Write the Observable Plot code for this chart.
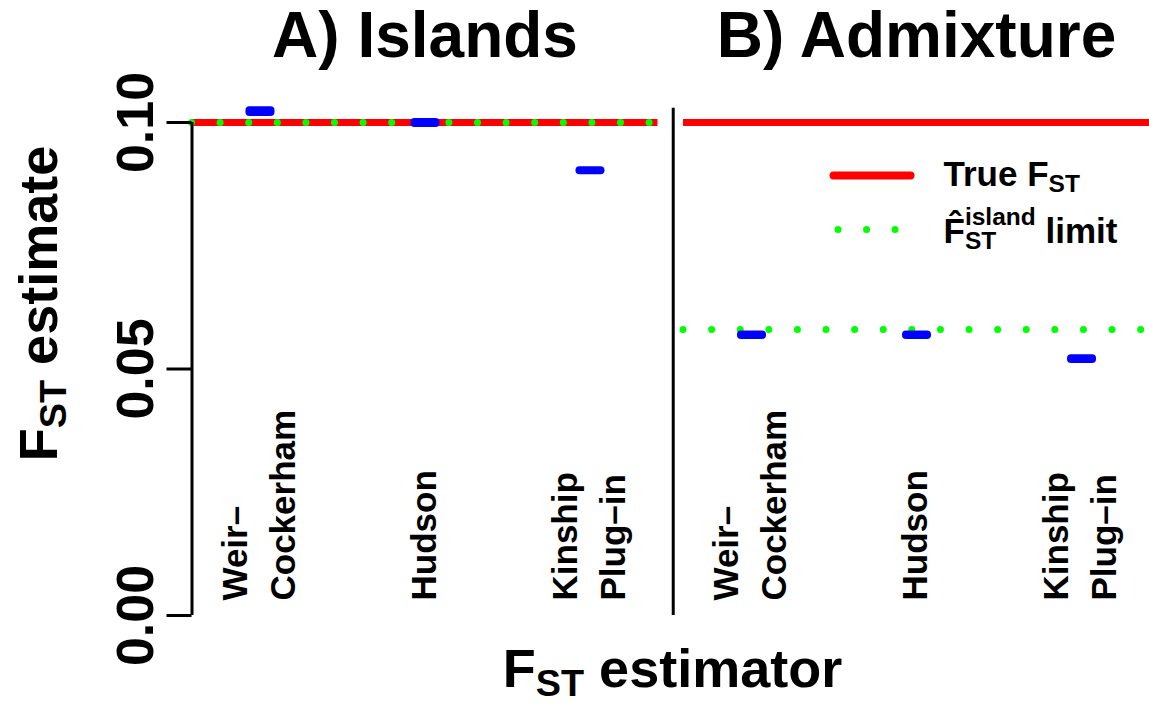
<!DOCTYPE html>
<html><head><meta charset="utf-8">
<script src="https://cdn.jsdelivr.net/npm/d3@7"></script>
<script src="https://cdn.jsdelivr.net/npm/@observablehq/plot@0.6"></script>
<style>body{margin:0;background:#fff} svg{display:block}</style>
</head><body><div id="chart"></div>
<script>
// ---- data ----
const panels = ["A", "B"];
const panelTitles = ["A) Islands", "B) Admixture"];
const estimators = ["Weir–\nCockerham", "Hudson", "Kinship\nPlug–in"];
const estimatorPos = [1, 2, 3];
const boxLowA  = [0.1012, 0.0990, 0.0894];
const boxHighA = [0.1032, 0.1008, 0.0910];
const boxLowB  = [0.0560, 0.0560, 0.0511];
const boxHighB = [0.0577, 0.0577, 0.0529];
const trueFst = [0.10, 0.10];
const islandLimit = [0.10, 0.0580];
const yTicks = [0, 0.05, 0.10];
const separatorTop = 0.1029;
const legendLabels = ["True F_{ST}", "F\u0302^{island}_{ST} limit"];
const xLabel = "F_{ST} estimator";
const yLabel = "F_{ST} estimate";

// ---- tables ----
const XDOMAIN = [0.585, 3.409];
const BOXHALF = 0.088;
const boxes = panels.flatMap((p, i) => estimators.map((e, j) => ({
  panel: p, pos: estimatorPos[j],
  lo: i ? boxLowB[j] : boxLowA[j], hi: i ? boxHighB[j] : boxHighA[j]
})));
const labels = panels.flatMap(p => estimators.map((e, j) => ({panel: p, pos: estimatorPos[j], label: e})));
const trueRows = panels.map((p, i) => ({panel: p, v: trueFst[i]}));
const limitRows = panels.map((p, i) => ({panel: p, v: islandLimit[i]}));
const RED = "#FF0000", GREEN = "#00FF00", BLUE = "#0000FF";

const lineSym = {draw(ctx) { ctx.moveTo(-38.5, 0); ctx.lineTo(38.5, 0); }};
const dotsSym = {draw(ctx) { ctx.moveTo(-28.5, 0); ctx.lineTo(29, 0); }};

const svg = Plot.plot({
  width: 1149, height: 706,
  marginLeft: 191.5, marginRight: 0, marginTop: 100, marginBottom: 91,
  style: {fontFamily: "'Liberation Sans', Arial, Helvetica, sans-serif", background: "white", color: "black"},
  fx: {domain: panels, paddingInner: 0.052, paddingOuter: 0, round: false},
  x: {domain: XDOMAIN, axis: null},
  y: {domain: [0, 0.1], range: [615, 122]},
  marks: [
    Plot.ruleY(trueRows, {fx: "panel", y: "v", stroke: RED, strokeWidth: 7}),
    Plot.ruleY(limitRows, {fx: "panel", y: "v", stroke: GREEN, strokeWidth: 7, strokeDasharray: "0 28.6", strokeLinecap: "round"}),
    Plot.rect(boxes, {fx: "panel", x1: d => d.pos - BOXHALF, x2: d => d.pos + BOXHALF, y1: "lo", y2: "hi", fill: BLUE, rx: 4}),
    Plot.ruleX([{panel: "A"}], {fx: "panel", x: () => XDOMAIN[0], y1: () => yTicks[0], y2: () => yTicks[2], stroke: "black", strokeWidth: 3}),
    Plot.ruleX([{panel: "B"}], {fx: "panel", x: () => XDOMAIN[0], y1: () => yTicks[0], y2: () => separatorTop, dx: -10.3, stroke: "black", strokeWidth: 3}),
    Plot.text(labels, {fx: "panel", x: "pos", text: "label", frameAnchor: "bottom", rotate: -90,
      textAnchor: "start", lineAnchor: "middle", lineHeight: 48 / 35, dy: -15, dx: -5,
      fontSize: 35, fontWeight: "bold", fill: "black"}),
    Plot.axisY({ticks: yTicks, tickFormat: d3.format(".2f"), tickSize: 25, tickPadding: 14.5, tickRotate: -90,
      fontSize: 52, fontWeight: "bold", strokeWidth: 3, label: null}),
    Plot.axisFx({anchor: "top", tickSize: 0, tickPadding: 44, fontSize: 64, fontWeight: "bold",
      tickFormat: d => panelTitles[panels.indexOf(d)], label: null}),
    Plot.text([{panel: "A", t: yLabel}], {fx: "panel", x: null, y: null, text: "t", frameAnchor: "left", rotate: -90,
      textAnchor: "middle", lineAnchor: "bottom", dx: -135.5, dy: -54.5, fontSize: 54, fontWeight: "bold"}),
    Plot.text([{panel: "A", t: xLabel}], {fx: "panel", x: null, y: null, text: "t", frameAnchor: "bottom",
      textAnchor: "middle", lineAnchor: "bottom", dx: 247.5, dy: 71, fontSize: 54, fontWeight: "bold"}),
    // legend (panel B, top-left of facet frame)
    Plot.dot([{panel: "B"}], {fx: "panel", x: null, y: null, frameAnchor: "top-left", dx: 188.5, dy: 75,
      symbol: lineSym, stroke: RED, strokeWidth: 8, strokeLinecap: "round", fill: "none"}),
    Plot.dot([{panel: "B"}], {fx: "panel", x: null, y: null, frameAnchor: "top-left", dx: 183, dy: 129,
      symbol: dotsSym, stroke: GREEN, strokeWidth: 7, strokeLinecap: "round", strokeDasharray: "0 28.5", fill: "none"}),
    Plot.text([{panel: "B", t: legendLabels[0]}], {fx: "panel", x: null, y: null, text: "t", frameAnchor: "top-left",
      textAnchor: "start", lineAnchor: "bottom", dx: 260, dy: 85, fontSize: 35, fontWeight: "bold"}),
    Plot.text([{panel: "B", t: legendLabels[1]}], {fx: "panel", x: null, y: null, text: "t", frameAnchor: "top-left",
      textAnchor: "start", lineAnchor: "bottom", dx: 260, dy: 142, fontSize: 35, fontWeight: "bold"})
  ]
});
document.getElementById("chart").appendChild(svg);

// ---- rich text (sub/superscripts) ----
const NS = "http://www.w3.org/2000/svg";
const re = /([_^])\{([^}]*)\}|([^_^]+)/g;
svg.querySelectorAll("text").forEach(t => {
  if (t.querySelector("tspan")) return;
  const s = t.textContent;
  if (!/[_^]\{/.test(s)) return;
  const fs = parseFloat(getComputedStyle(t).fontSize);
  t.textContent = "";
  let off = 0;
  const parts = [];
  for (const m of s.matchAll(re)) {
    const kind = m[1] === "_" ? "sub" : m[1] === "^" ? "sup" : "norm";
    const txt = m[2] ?? m[3];
    const ts = document.createElementNS(NS, "tspan");
    ts.textContent = txt;
    const target = kind === "sub" ? fs * 0.18 : kind === "sup" ? -fs * 0.5 : 0;
    if (target - off) ts.setAttribute("dy", target - off);
    off = target;
    if (kind !== "norm") ts.setAttribute("font-size", fs * 0.7);
    t.appendChild(ts);
    parts.push({kind, ts});
  }
  for (let i = 1; i < parts.length; ++i) {
    if (parts[i].kind === "sub" && parts[i - 1].kind === "sup") {
      const w1 = parts[i - 1].ts.getComputedTextLength();
      parts[i].ts.setAttribute("dx", -w1);
      const w2 = parts[i].ts.getComputedTextLength();
      if (parts[i + 1]) parts[i + 1].ts.setAttribute("dx", Math.max(0, w1 - w2));
    }
  }
});
</script>
</body></html>
